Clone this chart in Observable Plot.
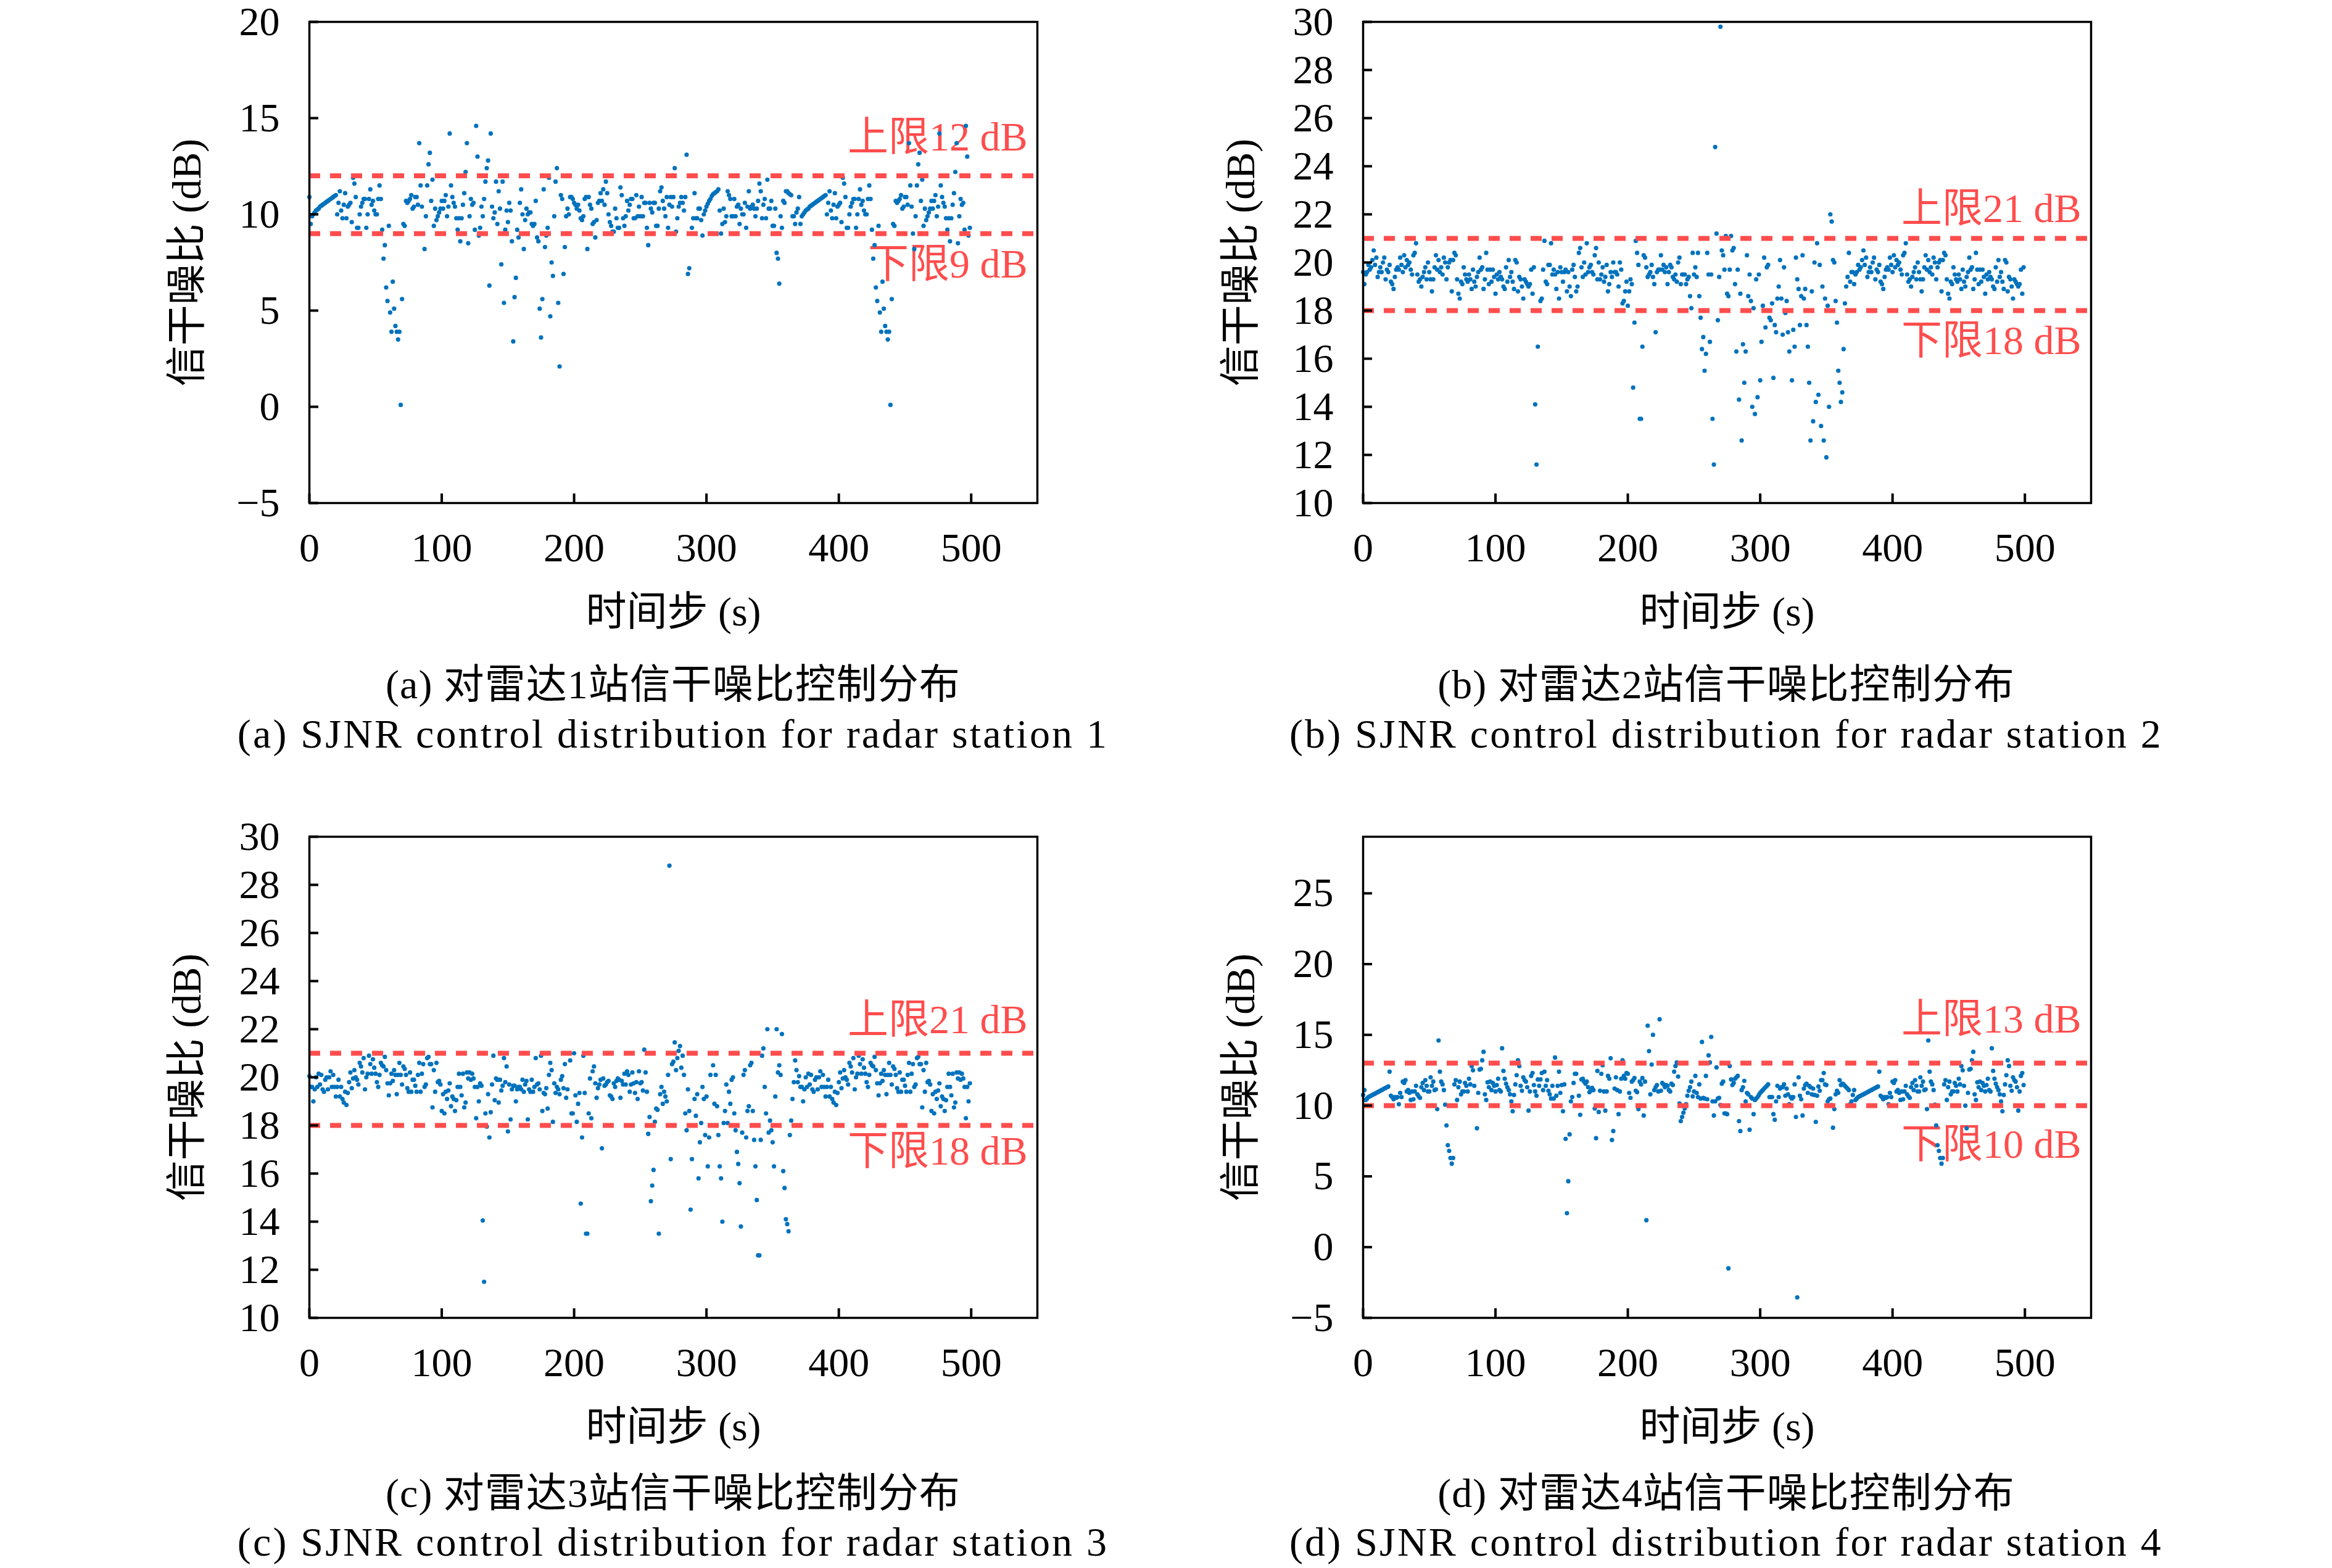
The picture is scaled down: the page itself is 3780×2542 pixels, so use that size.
<!DOCTYPE html>
<html>
<head>
<meta charset="utf-8">
<script src="https://cdn.jsdelivr.net/npm/d3@7"></script>
<script src="https://cdn.jsdelivr.net/npm/@observablehq/plot@0.6"></script>
<style>
  html, body { margin: 0; padding: 0; background: #ffffff; }
  #page { position: relative; width: 3780px; height: 2542px; background: #ffffff; overflow: hidden;
          font-family: "Liberation Serif", "Noto Sans CJK SC", serif; color: #000; }
  #page svg { position: absolute; overflow: visible; }
  .cap { position: absolute; white-space: nowrap; font-size: 66px; line-height: 1;
         transform: translate(-50%, -50%); }
  .cap.zh { letter-spacing: 1px; }
  .cap.en { letter-spacing: 3.2px; }
</style>
</head>
<body>
<div id="page"></div>
<script>
// ---------------- data ----------------
const xTicks = [0, 100, 200, 300, 400, 500];
const yTicksA = [-5, 0, 5, 10, 15, 20];
const yTicksB = [10, 12, 14, 16, 18, 20, 22, 24, 26, 28, 30];
const yTicksC = [10, 12, 14, 16, 18, 20, 22, 24, 26, 28, 30];
const yTicksD = [-5, 0, 5, 10, 15, 20, 25];

const upperLimits = [12, 21, 21, 13];
const lowerLimits = [9, 18, 18, 10];
const upperLabels = ["上限12 dB", "上限21 dB", "上限21 dB", "上限13 dB"];
const lowerLabels = ["下限9 dB", "下限18 dB", "下限18 dB", "下限10 dB"];
const captionsZh = ["(a) 对雷达1站信干噪比控制分布", "(b) 对雷达2站信干噪比控制分布",
                    "(c) 对雷达3站信干噪比控制分布", "(d) 对雷达4站信干噪比控制分布"];
const captionsEn = ["(a) SJNR control distribution for radar station 1",
                    "(b) SJNR control distribution for radar station 2",
                    "(c) SJNR control distribution for radar station 3",
                    "(d) SJNR control distribution for radar station 4"];
const xTitle = "时间步 (s)";
const yTitle = "信干噪比 (dB)";

// SJNR per time step (s = 0..499), radar station 1
const sjnrA = [
10.9,9.5,9.9,10.0,10.1,10.2,10.25,10.3,10.4,10.45,
10.5,10.55,10.6,10.65,10.7,10.75,10.8,10.85,10.9,10.95,
11.0,10.0,10.6,11.2,10.2,9.8,10.5,11.1,9.8,10.4,
10.5,10.6,9.6,11.9,11.6,10.9,9.3,9.3,10.0,10.4,
10.6,10.8,10.8,9.3,10.0,10.8,11.3,10.5,10.7,10.2,
10.0,10.0,10.8,11.5,10.8,9.2,7.7,8.4,6.2,5.5,
9.4,4.9,3.9,6.5,5.1,4.2,3.9,3.5,3.9,0.1,
5.6,9.5,9.4,10.7,10.6,10.7,10.8,11.0,10.3,10.4,
10.9,10.9,10.5,13.7,11.5,10.4,9.0,8.2,9.9,11.5,
12.6,13.2,10.7,11.8,9.4,10.3,9.7,9.9,10.1,10.3,
10.7,10.3,10.7,11.0,9.9,10.4,14.2,11.5,10.9,10.6,
10.4,9.8,9.2,9.8,8.6,9.8,10.5,11.1,12.2,13.7,
8.5,9.9,10.8,10.5,10.6,9.2,14.6,13.0,8.9,9.3,
10.4,9.9,10.8,11.7,12.4,12.8,6.3,14.2,10.4,9.8,
10.1,11.7,9.5,11.2,10.3,7.4,11.7,5.4,9.2,10.2,
9.6,10.6,10.2,8.6,3.4,5.7,6.7,9.2,8.8,10.6,
11.3,10.0,8.2,9.7,10.3,10.0,10.1,10.1,9.5,9.4,
9.5,10.7,8.8,8.6,5.1,3.6,5.6,11.3,8.3,8.9,
9.3,11.9,4.7,7.5,6.8,9.9,11.7,12.4,5.4,2.1,
11.0,10.8,6.9,8.3,9.9,10.3,10.0,10.9,10.9,10.8,
10.6,10.5,10.3,10.5,10.2,9.8,9.7,9.9,10.8,10.9,
8.2,10.9,10.5,10.3,9.5,9.6,8.8,9.7,10.6,10.7,
11.1,10.7,11.3,10.5,11.7,11.1,10.0,9.6,9.4,9.1,
9.1,10.3,9.8,9.3,9.3,11.4,11.0,9.8,9.4,9.9,
10.7,10.2,10.5,10.8,10.8,9.8,9.8,11.0,9.9,10.4,
9.9,10.9,9.9,10.6,10.6,9.3,8.4,10.6,10.3,10.1,
10.6,10.6,9.4,9.4,10.3,11.2,11.4,10.7,10.3,9.9,
10.9,9.3,10.5,10.9,10.4,10.9,12.4,9.1,9.8,10.4,
10.6,10.9,10.6,10.2,10.9,13.1,6.9,7.2,12.0,9.3,
9.8,11.1,9.8,9.8,10.3,10.3,9.7,8.9,10.0,10.2,
10.4,10.55,10.7,10.8,10.95,11.05,11.1,11.15,11.2,11.3,
10.2,9.0,9.5,10.3,9.6,9.9,11.2,11.0,10.8,9.9,
9.9,10.8,9.9,10.4,10.5,9.5,10.3,10.0,10.0,10.6,
9.3,10.4,11.2,10.3,10.4,10.5,10.3,9.9,10.3,10.7,
11.6,11.2,9.8,10.5,10.8,9.8,11.8,10.3,10.3,10.7,
9.4,9.4,10.3,8.0,7.7,6.4,9.9,9.3,10.7,10.6,
11.2,11.2,11.1,11.05,11.0,9.9,9.9,9.5,10.1,10.3,
10.9,9.5,9.9,10.0,10.1,10.2,10.25,10.3,10.4,10.45,
10.5,10.55,10.6,10.65,10.7,10.75,10.8,10.85,10.9,10.95,
11.0,10.0,10.6,11.2,10.2,9.8,10.5,11.1,9.8,10.4,
10.5,10.6,9.6,11.9,11.6,10.9,9.3,9.3,10.0,10.4,
10.6,10.8,10.8,9.3,10.0,10.8,11.3,10.5,10.7,10.2,
10.0,10.0,10.8,11.5,10.8,9.2,7.7,8.4,6.2,5.5,
9.4,4.9,3.9,6.5,5.1,4.2,3.9,3.5,3.9,0.1,
5.6,9.5,9.4,10.7,10.6,10.7,10.8,11.0,10.3,10.4,
10.9,10.9,10.5,13.7,11.5,10.4,9.0,8.2,9.9,11.5,
12.6,13.2,10.7,11.8,9.4,10.3,9.7,9.9,10.1,10.3,
10.7,10.3,10.7,11.0,9.9,10.4,14.2,11.5,10.9,10.6,
10.4,9.8,9.2,9.8,8.6,9.8,10.5,11.1,12.2,13.7,
8.5,9.9,10.8,10.5,10.6,9.2,14.6,13.0,8.9,9.3
];

// radar station 2
const sjnrB = [
19.6,19.1,19.5,19.6,19.9,19.7,19.8,20.1,20.5,19.9,
20.2,19.4,19.6,19.8,19.6,20.0,20.2,19.3,19.7,19.6,
19.9,19.2,19.1,18.9,19.4,19.7,19.8,19.7,20.2,19.9,
19.6,20.3,19.8,20.1,19.9,20.0,19.7,19.5,20.3,20.4,
20.8,19.5,19.2,19.3,19.0,19.4,19.6,19.8,19.3,20.0,
19.6,19.3,18.8,19.3,19.8,20.3,19.7,20.1,19.6,19.8,
19.5,20.2,20.0,19.3,19.8,20.0,20.1,18.8,20.1,20.4,
20.3,19.3,18.7,18.5,19.2,19.1,19.8,19.5,19.3,19.2,
19.5,19.3,18.9,19.7,19.2,19.0,19.4,19.6,20.2,19.7,
19.8,18.9,19.3,20.4,19.7,19.1,19.7,19.2,19.7,19.4,
18.7,19.5,19.3,19.6,19.4,19.3,19.0,18.9,19.8,19.2,
20.1,19.4,19.6,19.2,18.9,20.1,20.0,18.8,19.4,19.3,
19.0,18.5,19.3,19.2,19.1,19.0,19.1,19.7,18.7,19.8,
14.1,11.6,16.5,18.0,18.4,18.5,19.7,20.9,19.2,19.1,
19.9,19.9,20.8,19.5,19.7,19.5,18.9,19.6,18.5,19.8,
19.6,19.2,19.6,19.7,18.8,19.6,19.0,18.6,19.7,19.9,
19.4,18.8,19.0,20.4,20.6,19.8,19.4,20.0,19.5,20.8,
19.6,19.8,19.9,19.6,19.5,20.3,20.6,19.3,20.0,19.3,
19.5,19.8,19.2,19.4,19.9,18.8,19.1,19.6,19.4,20.0,
19.6,19.6,19.5,19.0,20.0,19.7,18.3,18.4,18.8,19.2,
18.2,18.8,19.3,19.1,14.8,17.5,20.9,20.4,19.9,13.5,
13.5,16.5,20.3,20.2,19.8,19.4,19.5,19.6,19.9,19.4,
19.1,17.1,19.6,19.7,19.7,20.3,19.7,19.9,19.6,19.8,
19.1,19.6,19.9,19.8,19.4,19.3,19.5,19.2,20.0,20.2,
19.1,19.5,19.5,19.5,19.1,19.3,19.4,18.6,18.1,20.4,
19.5,19.8,19.4,20.4,18.6,17.7,16.4,16.9,15.5,16.2,
20.4,19.5,16.7,19.5,13.5,11.6,24.8,21.2,17.6,19.4,
29.8,20.5,20.3,19.7,21.1,18.7,18.6,19.7,21.1,20.5,
20.6,19.1,16.3,19.7,14.3,18.7,12.6,16.6,15.0,16.3,
20.3,18.6,19.5,18.4,14.0,18.1,13.7,19.3,14.4,19.5,
15.1,16.7,18.2,20.2,17.3,19.8,19.9,17.7,17.6,18.3,
15.2,17.4,17.1,18.5,19.0,20.1,18.5,17.0,19.8,17.9,
18.4,17.1,16.3,18.0,15.1,17.2,16.5,20.2,19.3,18.9,
17.4,18.6,20.3,18.5,18.9,17.4,16.5,15.0,12.6,18.8,
13.4,20.0,14.2,20.8,14.5,19.9,13.2,19.0,12.6,18.5,
11.9,18.2,14.0,22.0,21.7,20.1,20.0,18.4,17.5,15.5,
15.0,14.2,14.6,16.4,18.3,19.0,19.4,20.4,19.2,19.6,
19.6,19.1,19.5,19.6,19.9,19.7,19.8,20.1,20.5,19.9,
20.2,19.4,19.6,19.8,19.6,20.0,20.2,19.3,19.7,19.6,
19.9,19.2,19.1,18.9,19.4,19.7,19.8,19.7,20.2,19.9,
19.6,20.3,19.8,20.1,19.9,20.0,19.7,19.5,20.3,20.4,
20.8,19.5,19.2,19.3,19.0,19.4,19.6,19.8,19.3,20.0,
19.6,19.3,18.8,19.3,19.8,20.3,19.7,20.1,19.6,19.8,
19.5,20.2,20.0,19.3,19.8,20.0,20.1,18.8,20.1,20.4,
20.3,19.3,18.7,18.5,19.2,19.1,19.8,19.5,19.3,19.2,
19.5,19.3,18.9,19.7,19.2,19.0,19.4,19.6,20.2,19.7,
19.8,18.9,19.3,20.4,19.7,19.1,19.7,19.2,19.7,19.4,
18.7,19.5,19.3,19.6,19.4,19.3,19.0,18.9,19.8,19.2,
20.1,19.4,19.6,19.2,18.9,20.1,20.0,18.8,19.4,19.3,
19.0,18.5,19.3,19.2,19.1,19.0,19.1,19.7,18.7,19.8
];

// radar station 3
const sjnrC = [
20.05,19.6,19.6,19.0,19.5,20.0,19.6,20.15,19.7,20.1,
19.5,19.4,19.9,20.0,19.5,20.0,20.25,19.6,20.1,19.6,
19.2,19.6,19.9,19.2,19.6,19.1,18.95,19.4,18.85,19.35,
19.8,20.2,19.55,19.95,20.3,20.0,19.9,19.7,20.6,20.45,
20.2,20.8,19.5,20.0,20.15,20.9,20.55,20.15,20.75,20.4,
20.15,19.8,19.6,20.1,20.6,20.5,20.45,20.85,20.3,19.75,
19.25,19.75,20.15,19.85,20.3,20.1,19.3,20.1,20.6,20.1,
19.7,20.45,20.35,20.1,19.55,19.4,20.2,19.4,19.9,19.9,
19.65,19.4,20.1,20.6,19.4,20.15,20.55,19.6,19.7,20.8,
20.85,20.55,20.55,18.75,20.3,19.4,20.6,19.8,19.85,19.7,
18.6,19.3,18.5,19.4,19.1,19.45,19.75,18.8,19.2,19.1,
18.6,19.05,19.6,20.15,19.6,19.25,20.15,18.75,18.95,20.2,
19.95,20.2,19.9,20.15,19.95,19.6,18.3,19.6,19.0,19.75,
19.65,14.05,11.5,18.5,17.95,19.3,17.5,18.55,19.7,20.9,
19.05,19.95,19.9,18.95,19.9,19.45,19.65,20.8,19.8,20.45,
17.75,19.7,18.25,19.5,19.65,19.65,19.0,19.5,19.6,19.6,
19.5,19.9,19.4,19.7,19.85,18.25,19.5,19.4,19.9,19.4,
19.6,20.8,19.7,19.75,19.5,20.9,18.6,19.35,19.3,19.55,
18.7,20.1,20.6,20.3,18.15,19.75,19.35,19.6,19.5,19.3,
19.9,20.05,19.55,20.55,19.15,19.5,18.0,20.7,18.5,18.5,
21.0,19.25,18.15,18.9,19.35,14.75,17.5,20.9,19.35,13.5,
13.5,18.5,19.95,18.3,20.25,20.45,19.75,19.15,19.55,19.7,
19.9,17.05,19.95,19.65,19.7,19.8,19.85,19.25,19.2,19.1,
19.75,19.6,19.85,19.95,19.9,19.15,19.85,19.7,20.15,19.7,
20.25,20.1,19.4,19.7,20.2,19.75,19.35,19.8,19.1,20.25,
19.75,19.8,19.45,21.15,20.2,19.4,17.65,18.35,14.85,15.5,
16.15,18.15,18.7,18.65,13.5,19.3,19.6,18.9,19.4,19.2,
19.0,20.1,28.8,16.6,20.55,20.65,21.45,20.3,20.8,21.1,
21.3,20.4,20.9,20.1,18.5,17.8,19.5,18.6,14.5,16.6,
18.0,19.1,18.4,19.3,15.8,17.3,18.1,19.6,19.1,17.6,
19.2,16.3,17.5,20.1,21.0,20.5,18.9,20.1,18.8,17.6,
16.3,15.8,14.0,18.1,18.6,19.7,18.1,19.4,18.9,19.9,
20.0,18.5,17.8,16.9,16.4,15.6,13.8,17.7,20.1,20.3,
17.5,18.6,18.8,20.5,20.6,18.6,17.4,16.3,14.9,12.6,
12.6,17.4,20.9,21.2,19.6,18.5,22.0,17.7,18.2,17.8,
17.3,16.3,19.2,22.0,20.2,20.5,20.1,21.8,16.1,15.4,
14.1,13.9,13.6,17.6,18.2,19.1,19.8,20.7,20.3,19.8,
20.05,19.6,19.6,19.0,19.5,20.0,19.6,20.15,19.7,20.1,
19.5,19.4,19.9,20.0,19.5,20.0,20.25,19.6,20.1,19.6,
19.2,19.6,19.9,19.2,19.6,19.1,18.95,19.4,18.85,19.35,
19.8,20.2,19.55,19.95,20.3,20.0,19.9,19.7,20.6,20.45,
20.2,20.8,19.5,20.0,20.15,20.9,20.55,20.15,20.75,20.4,
20.15,19.8,19.6,20.1,20.6,20.5,20.45,20.85,20.3,19.75,
19.25,19.75,20.15,19.85,20.3,20.1,19.3,20.1,20.6,20.1,
19.7,20.45,20.35,20.1,19.55,19.4,20.2,19.4,19.9,19.9,
19.65,19.4,20.1,20.6,19.4,20.15,20.55,19.6,19.7,20.8,
20.85,20.55,20.55,18.75,20.3,19.4,20.6,19.8,19.85,19.7,
18.6,19.3,18.5,19.4,19.1,19.45,19.75,18.8,19.2,19.1,
18.6,19.05,19.6,20.15,19.6,19.25,20.15,18.75,18.95,20.2,
19.95,20.2,19.9,20.15,19.95,19.6,18.3,19.6,19.0,19.75
];

// radar station 4
const sjnrD = [
10.75,11.1,10.4,10.5,10.6,10.65,10.7,10.75,10.8,10.85,
10.9,10.95,11.0,11.05,11.1,11.15,11.2,11.25,11.3,11.35,
12.4,10.7,10.6,10.45,10.6,10.55,10.6,10.1,10.9,10.6,
11.7,11.6,11.8,11.0,11.1,10.9,10.4,11.0,10.45,11.0,
11.4,10.8,10.65,10.55,11.3,11.6,11.1,11.8,11.4,11.0,
11.0,12.0,11.4,11.7,11.1,11.15,9.75,14.6,12.4,11.7,
11.5,11.1,10.07,8.6,7.2,6.8,6.3,5.9,6.3,11.5,
11.8,10.4,11.3,11.7,10.8,11.0,11.0,11.6,11.4,11.0,
11.9,11.5,12.8,12.5,11.4,10.0,8.4,10.9,12.55,12.6,
13.2,13.8,10.8,10.4,11.65,11.3,11.7,11.1,11.6,11.4,
11.0,11.45,11.9,11.1,11.0,14.05,12.45,11.9,11.55,11.3,
11.1,10.8,10.3,9.6,10.75,11.5,12.15,13.2,12.8,11.4,
11.05,12.0,11.8,11.7,11.3,9.65,11.0,12.1,12.3,11.45,
11.0,10.7,11.85,11.4,11.85,12.3,11.1,12.4,11.4,11.8,
11.05,10.8,10.5,11.4,10.5,13.4,10.7,11.4,12.4,10.9,
11.45,9.6,11.5,7.65,2.4,4.66,7.97,10.3,10.6,11.6,
12.25,12.25,13.0,10.7,9.35,11.85,11.9,11.7,11.55,11.7,
11.3,10.95,11.05,11.25,11.1,9.8,7.7,12.45,9.55,11.05,
12.25,12.85,11.0,9.65,11.0,12.1,11.9,13.35,7.57,8.2,
11.2,12.0,11.1,9.4,11.0,11.9,13.2,12.1,11.9,12.3,
12.25,10.9,10.55,11.7,11.8,11.95,11.05,10.95,9.75,11.7,
11.5,11.95,9.3,11.7,1.9,15.65,13.85,10.8,12.9,15.0,
11.1,11.3,11.45,11.0,16.1,11.05,11.6,11.5,11.3,11.45,
11.4,11.1,11.0,11.55,11.45,12.4,12.8,13.05,12.05,10.15,
8.9,9.2,9.5,9.8,10.1,10.7,11.05,11.3,11.7,10.65,
11.0,12.1,10.9,10.6,11.5,10.5,14.5,10.55,10.5,12.1,
10.45,13.55,13.05,14.85,10.3,9.3,10.3,12.7,10.5,10.55,
10.05,11.55,11.7,9.45,9.45,9.4,-1.5,12.8,11.85,11.45,
11.6,11.9,12.0,12.1,8.9,8.2,11.1,11.3,11.75,10.3,
10.9,10.8,8.3,10.6,10.5,9.4,10.4,10.5,10.6,10.75,
10.9,11.0,11.1,11.2,11.3,11.4,11.5,10.6,10.6,10.6,
9.4,9.0,10.3,11.4,10.6,11.2,11.3,11.3,11.5,10.7,
11.2,10.8,10.1,10.6,10.5,10.6,11.5,9.2,-3.55,12.0,
10.7,10.45,9.3,11.2,11.45,11.55,10.9,11.4,11.3,10.8,
11.2,10.75,8.85,10.7,11.35,11.05,11.8,11.8,12.3,11.5,
11.45,10.3,10.45,10.5,10.03,8.44,9.75,10.8,11.05,10.9,
11.8,11.45,11.55,11.5,11.4,11.3,11.2,11.1,10.1,10.3,
10.75,11.1,10.4,10.5,10.6,10.65,10.7,10.75,10.8,10.85,
10.9,10.95,11.0,11.05,11.1,11.15,11.2,11.25,11.3,11.35,
12.4,10.7,10.6,10.45,10.6,10.55,10.6,10.1,10.9,10.6,
11.7,11.6,11.8,11.0,11.1,10.9,10.4,11.0,10.45,11.0,
11.4,10.8,10.65,10.55,11.3,11.6,11.1,11.8,11.4,11.0,
11.0,12.0,11.4,11.7,11.1,11.15,9.75,14.6,12.4,11.7,
11.5,11.1,10.07,8.6,7.2,6.8,6.3,5.9,6.3,11.5,
11.8,10.4,11.3,11.7,10.8,11.0,11.0,11.6,11.4,11.0,
11.9,11.5,12.8,12.5,11.4,10.0,8.4,10.9,12.55,12.6,
13.2,13.8,10.8,10.4,11.65,11.3,11.7,11.1,11.6,11.4,
11.0,11.45,11.9,11.1,11.0,14.05,12.45,11.9,11.55,11.3,
11.1,10.8,10.3,9.6,10.75,11.5,12.15,13.2,12.8,11.4,
11.05,12.0,11.8,11.7,11.3,9.65,11.0,12.1,12.3,11.45
];

const yDomains = [[-5, 20], [10, 30], [10, 30], [-5, 29]];

// ---------------- layout / style ----------------
const FONT = '"Liberation Serif", "Noto Sans CJK SC", serif';
const BLUE = "#0072BD";
const RED = "#FF4D4D";
const FW = 1180, FH = 780, ML = 260, MR = 40, MT = 70, MB = 240;
const layout = [
  {frameLeft: 501,  frameTop: 35,   upDy: -41, lowDy: 71, capX: 1091, capZhY: 1110, capEnY: 1190},
  {frameLeft: 2209, frameTop: 35,   upDy: -27, lowDy: 70, capX: 2798, capZhY: 1110, capEnY: 1190},
  {frameLeft: 501,  frameTop: 1356, upDy: -33, lowDy: 63, capX: 1091, capZhY: 2421, capEnY: 2500},
  {frameLeft: 2209, frameTop: 1356, upDy: -50, lowDy: 85, capX: 2798, capZhY: 2421, capEnY: 2500}
];

const series = [sjnrA, sjnrB, sjnrC, sjnrD];
const yTickSets = [yTicksA, yTicksB, yTicksC, yTicksD];

function makePanel(k) {
  const lay = layout[k];
  const values = series[k];
  const yTicks = yTickSets[k];
  const limitRows = [
    {v: upperLimits[k], label: upperLabels[k], dy: lay.upDy},
    {v: lowerLimits[k], label: lowerLabels[k], dy: lay.lowDy}
  ];
  const svg = Plot.plot({
    width: ML + FW + MR,
    height: MT + FH + MB,
    marginLeft: ML, marginRight: MR, marginTop: MT, marginBottom: MB,
    x: {domain: [0, 550], axis: null},
    y: {domain: yDomains[k], axis: null},
    style: {fontFamily: FONT, fontSize: "66px", background: "transparent", color: "black", overflow: "visible"},
    marks: [
      Plot.text([limitRows[0]], {y: "v", text: "label", frameAnchor: "right", textAnchor: "end",
        lineAnchor: "bottom", dx: -16, dy: limitRows[0].dy, fill: RED, fontSize: 66, fontFamily: FONT}),
      Plot.text([limitRows[1]], {y: "v", text: "label", frameAnchor: "right", textAnchor: "end",
        lineAnchor: "bottom", dx: -16, dy: limitRows[1].dy, fill: RED, fontSize: 66, fontFamily: FONT}),
      Plot.dot(values, {x: (d, i) => i, y: d => d, r: 3.6, fill: BLUE}),
      Plot.ruleY(limitRows, {y: "v", stroke: RED, strokeWidth: 8, strokeDasharray: "18 16"}),
      Plot.tickX(xTicks, {x: d => d, insetTop: FH - 15, stroke: "black", strokeWidth: 4}),
      Plot.tickY(yTicks, {y: d => d, insetRight: FW - 15, stroke: "black", strokeWidth: 4}),
      Plot.axisX({ticks: xTicks, tickSize: 0, tickPadding: 48, label: null, fontSize: 66, fontFamily: FONT}),
      Plot.axisY({ticks: yTicks, tickSize: 0, tickPadding: 48, label: null, fontSize: 66, fontFamily: FONT}),
      Plot.text([xTitle], {text: d => d, frameAnchor: "bottom", dy: 177, lineAnchor: "middle",
        fontSize: 66, fontFamily: FONT, fill: "black"}),
      Plot.text([yTitle], {text: d => d, frameAnchor: "left", dx: -198, rotate: -90, lineAnchor: "middle",
        textAnchor: "middle", fontSize: 66, fontFamily: FONT, fill: "black"}),
      Plot.frame({stroke: "black", strokeWidth: 3.5})
    ]
  });
  svg.style.left = (lay.frameLeft - ML) + "px";
  svg.style.top = (lay.frameTop - MT) + "px";
  return svg;
}

const page = document.getElementById("page");
for (let k = 0; k < 4; k++) {
  page.appendChild(makePanel(k));
  const lay = layout[k];
  const zh = document.createElement("div");
  zh.className = "cap zh";
  zh.textContent = captionsZh[k];
  zh.style.left = lay.capX + "px";
  zh.style.top = lay.capZhY + "px";
  page.appendChild(zh);
  const en = document.createElement("div");
  en.className = "cap en";
  en.textContent = captionsEn[k];
  en.style.left = lay.capX + "px";
  en.style.top = lay.capEnY + "px";
  page.appendChild(en);
}
</script>
</body>
</html>
